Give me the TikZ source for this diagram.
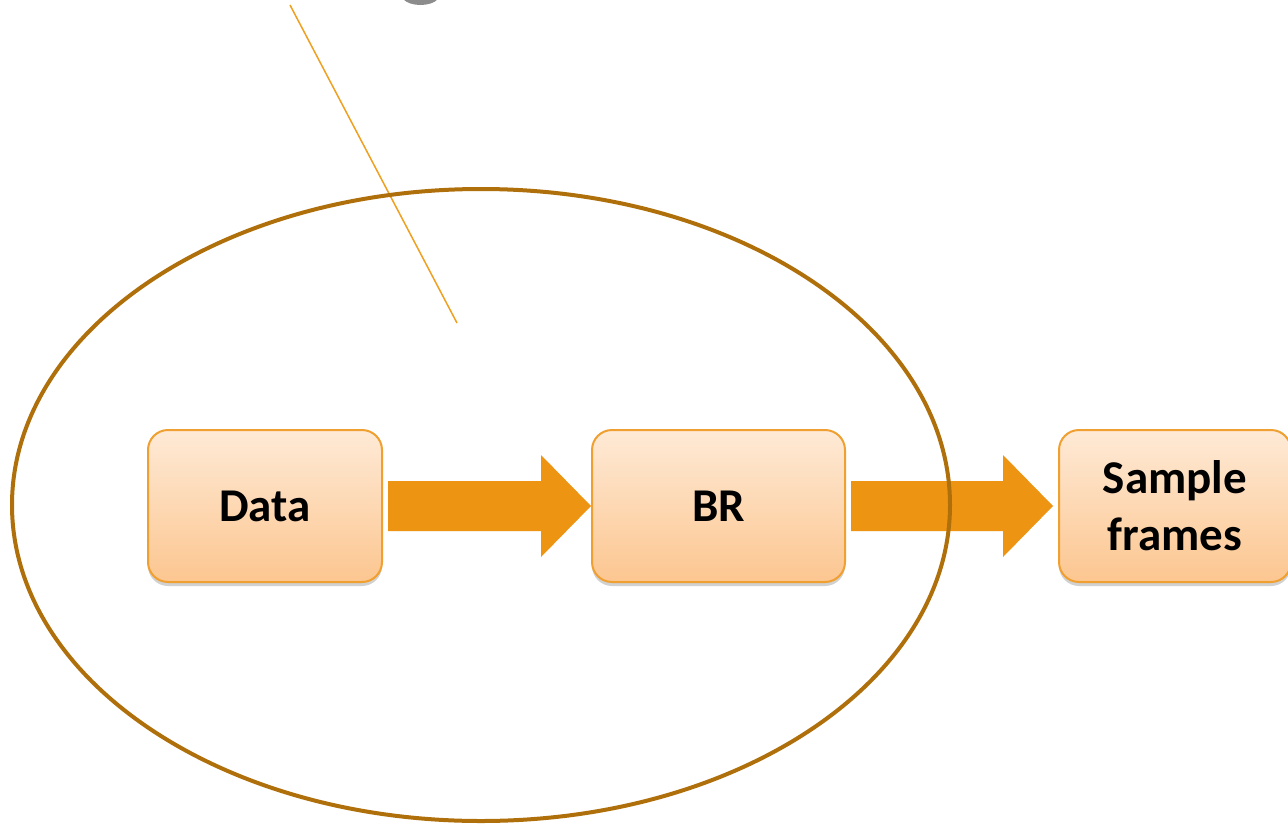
\documentclass[tikz,border=0pt]{standalone}
\usepackage{fontspec}
\setmainfont{Carlito}
\usetikzlibrary{shadows,calc}
\definecolor{boxtop}{HTML}{FEEAD6}
\definecolor{boxbot}{HTML}{FCC690}
\definecolor{boxline}{HTML}{F0A030}
\definecolor{arrowfill}{HTML}{EE9413}
\definecolor{ringcol}{HTML}{AF700C}
\definecolor{leadcol}{HTML}{F0A020}
\tikzset{
  stagebox/.style={draw=boxline, line width=2pt, rounded corners=20pt,
    top color=boxtop, bottom color=boxbot, minimum height=152pt,
    font=\bfseries\fontsize{47}{57}\selectfont, align=center, text=black,
    text depth=0pt,
    drop shadow={shadow xshift=0pt, shadow yshift=-4pt, opacity=0.18, fill=black}},
  blockarrow/.style={fill=arrowfill, draw=none},
}
\begin{document}
\begin{tikzpicture}[x=1pt,y=-1pt]
\useasboundingbox (0,0) rectangle (1288,825);
\clip (0,0) rectangle (1288,825);
\fill[white] (0,0) rectangle (1288,825);
% gray glyph fragment at top
\fill[gray!90] (403,-1) .. controls (410,7) and (431,7) .. (438,-1) -- cycle;
% leader line
\coordinate (la) at (290,5);
\coordinate (lb) at (457,323);
\draw[leadcol, line width=1.5pt] (la) -- (lb);
% boxes
\node[stagebox, minimum width=234pt] (data) at (265,506) {Data};
\node[stagebox, minimum width=253pt] (br) at (718.5,506) {BR};
\node[stagebox, minimum width=232pt] (sf) at (1175,506) {Sample\\frames};
% block arrows
\fill[blockarrow] ($(data.east)+(5pt,-25pt)$) -- ($(br.west)+(-50pt,-25pt)$) -- ($(br.west)+(-50pt,-51pt)$) -- (br.west)
  -- ($(br.west)+(-50pt,51pt)$) -- ($(br.west)+(-50pt,25pt)$) -- ($(data.east)+(5pt,25pt)$) -- cycle;
\fill[blockarrow] ($(br.east)+(5pt,-25pt)$) -- ($(sf.west)+(-55pt,-25pt)$) -- ($(sf.west)+(-55pt,-51pt)$) -- ($(sf.west)+(-5pt,0pt)$)
  -- ($(sf.west)+(-55pt,51pt)$) -- ($(sf.west)+(-55pt,25pt)$) -- ($(br.east)+(5pt,25pt)$) -- cycle;
% ring
\draw[ringcol, line width=4pt] (481,505) ellipse [x radius=469, y radius=316];
\end{tikzpicture}
\end{document}
